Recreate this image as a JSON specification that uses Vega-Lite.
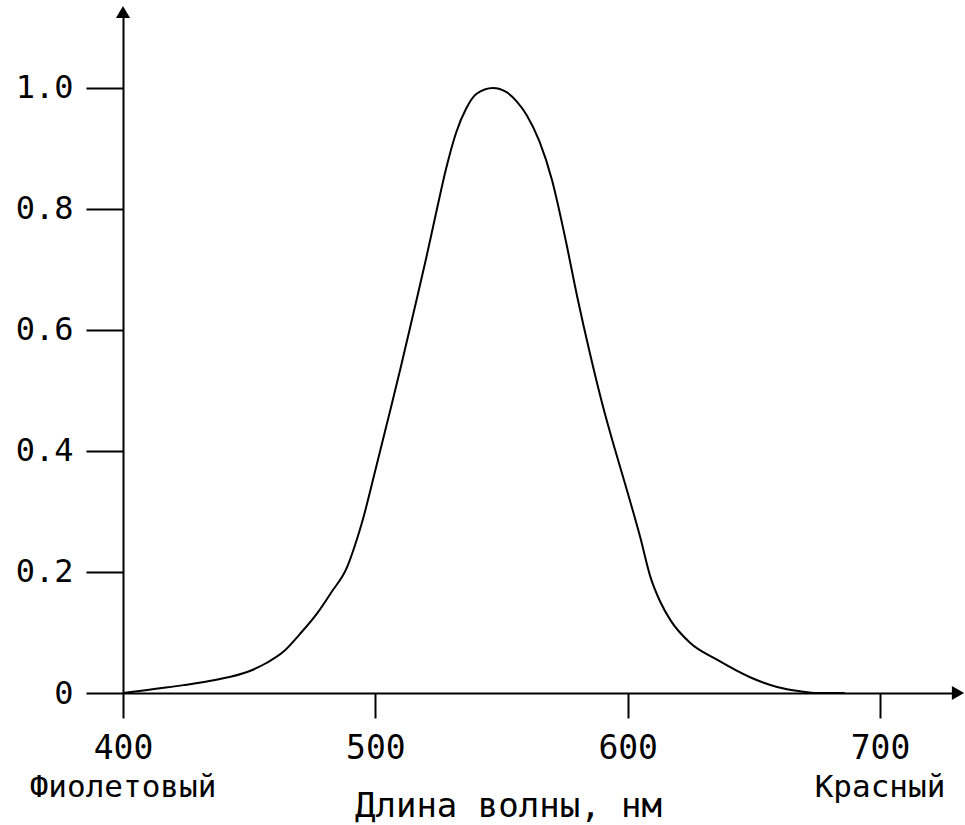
{
  "$schema": "https://vega.github.io/schema/vega-lite/v6.json",
  "autosize": "none",
  "width": 835,
  "height": 681,
  "padding": {"left": 123, "top": 12, "right": 7, "bottom": 132},
  "background": "white",
  "config": {
    "view": {"stroke": null},
    "axis": {
      "labelFont": "DejaVu Sans Mono",
      "titleFont": "DejaVu Sans Mono",
      "labelColor": "black",
      "titleColor": "black",
      "domainColor": "black",
      "tickColor": "black",
      "domainWidth": 2,
      "tickWidth": 2,
      "grid": false
    }
  },
  "encoding": {
    "x": {
      "type": "quantitative",
      "scale": {"domain": [400, 730.9], "nice": false, "zero": false},
      "axis": {
        "values": [400, 500, 600, 700],
        "tickSize": 25,
        "labelFontSize": 33,
        "labelPadding": 14,
        "labelFlush": false,
        "title": "Длина волны, нм",
        "titleFontSize": 34,
        "titleFontWeight": "normal",
        "titlePadding": 24,
        "titleX": 385
      }
    },
    "y": {
      "type": "quantitative",
      "scale": {"domain": [0, 1.1256], "nice": false, "zero": true},
      "axis": {
        "values": [0, 0.2, 0.4, 0.6, 0.8, 1.0],
        "labelExpr": "datum.value == 0 ? '0' : format(datum.value, '.1f')",
        "tickSize": 37,
        "labelFontSize": 32,
        "labelPadding": 13,
        "labelFlush": false,
        "title": null
      }
    }
  },
  "layer": [
    {
      "data": {
        "values": [
          {"nm": 400, "v": 0},
          {"nm": 404, "v": 0.002},
          {"nm": 413, "v": 0.007},
          {"nm": 424, "v": 0.013},
          {"nm": 437, "v": 0.022},
          {"nm": 450, "v": 0.036},
          {"nm": 457, "v": 0.05},
          {"nm": 463.5, "v": 0.068},
          {"nm": 470, "v": 0.097},
          {"nm": 477, "v": 0.132},
          {"nm": 482.5, "v": 0.166},
          {"nm": 488.8, "v": 0.208},
          {"nm": 492, "v": 0.245},
          {"nm": 495, "v": 0.286},
          {"nm": 500, "v": 0.368},
          {"nm": 505, "v": 0.452},
          {"nm": 510, "v": 0.537},
          {"nm": 515, "v": 0.626},
          {"nm": 520, "v": 0.716},
          {"nm": 524, "v": 0.792},
          {"nm": 528, "v": 0.866},
          {"nm": 532, "v": 0.926},
          {"nm": 536, "v": 0.966},
          {"nm": 540, "v": 0.99},
          {"nm": 546.6, "v": 1.0},
          {"nm": 552, "v": 0.993},
          {"nm": 556, "v": 0.978},
          {"nm": 560, "v": 0.955},
          {"nm": 565, "v": 0.912},
          {"nm": 570, "v": 0.848},
          {"nm": 575, "v": 0.757},
          {"nm": 580, "v": 0.655},
          {"nm": 585, "v": 0.562},
          {"nm": 590, "v": 0.477},
          {"nm": 595, "v": 0.402},
          {"nm": 600, "v": 0.331},
          {"nm": 605, "v": 0.257},
          {"nm": 609, "v": 0.192},
          {"nm": 613, "v": 0.15},
          {"nm": 617, "v": 0.12},
          {"nm": 624.7, "v": 0.083},
          {"nm": 635.4, "v": 0.055},
          {"nm": 648.5, "v": 0.026},
          {"nm": 659.2, "v": 0.01},
          {"nm": 668.3, "v": 0.003},
          {"nm": 675, "v": 0},
          {"nm": 686, "v": 0}
        ]
      },
      "mark": {"type": "line", "color": "black", "strokeWidth": 2, "interpolate": "monotone"},
      "encoding": {
        "x": {"field": "nm", "type": "quantitative"},
        "y": {"field": "v", "type": "quantitative"}
      }
    },
    {
      "data": {"values": [{"nm": 400, "name": "Фиолетовый"}, {"nm": 700, "name": "Красный"}]},
      "mark": {"type": "text", "font": "DejaVu Sans Mono", "fontSize": 31, "color": "black", "baseline": "alphabetic", "align": "center", "clip": false},
      "encoding": {
        "x": {"field": "nm", "type": "quantitative"},
        "y": {"datum": -0.172, "type": "quantitative"},
        "text": {"field": "name"}
      }
    },
    {
      "data": {"values": [{}]},
      "mark": {"type": "point", "shape": "triangle-up", "filled": true, "color": "black", "opacity": 1, "size": 200, "clip": false},
      "encoding": {
        "x": {"datum": 400, "type": "quantitative"},
        "y": {"datum": 1.1256, "type": "quantitative"}
      }
    },
    {
      "data": {"values": [{}]},
      "mark": {"type": "point", "shape": "triangle-right", "filled": true, "color": "black", "opacity": 1, "size": 200, "clip": false},
      "encoding": {
        "x": {"datum": 730.9, "type": "quantitative"},
        "y": {"datum": 0, "type": "quantitative"}
      }
    }
  ]
}
